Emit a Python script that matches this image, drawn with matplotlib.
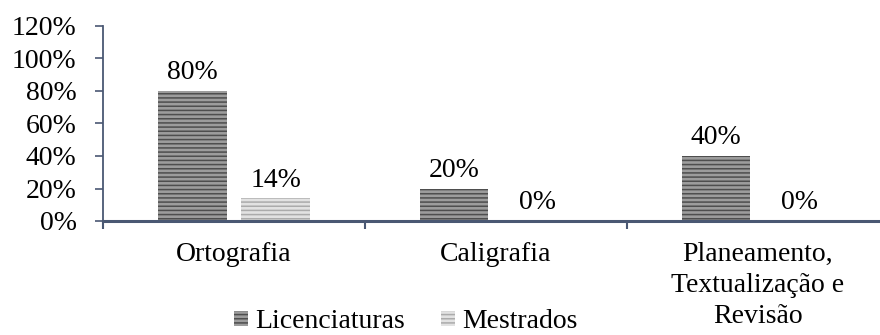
import numpy as np
import matplotlib
matplotlib.use("Agg")
import matplotlib.pyplot as plt
from matplotlib.patches import Patch

# values
categorias = ["Ortografia", "Caligrafia", "Planeamento,\nTextualização e\nRevisão"]
licenciaturas = [0.80, 0.20, 0.40]
mestrados = [0.14, 0.0, 0.0]
series_names = ["Licenciaturas", "Mestrados"]
yticks = [0, 0.2, 0.4, 0.6, 0.8, 1.0, 1.2]

plt.rcParams['font.family'] = ['Liberation Serif', 'DejaVu Serif']
plt.rcParams['hatch.linewidth'] = 1.1

axis_col = "#4a5873"
fs = 20

fig = plt.figure(figsize=(8.8, 3.35), dpi=100)
ax = fig.add_axes([103 / 880, 114 / 335, 777 / 880, 195 / 335])

x = np.arange(len(categorias))
w = 0.263
off = 0.16

b1 = ax.bar(x - off, licenciaturas, w, color="#9c9c9c", edgecolor="#4e4e4e",
            hatch="----", linewidth=0)
b2 = ax.bar(x + off, mestrados, w, color="#e2e2e2", edgecolor="#ababab",
            hatch="----", linewidth=0)

for bars, vals in [(b1, licenciaturas), (b2, mestrados)]:
    for rect, v in zip(bars, vals):
        ax.annotate(f"{v * 100:.0f}%", (rect.get_x() + rect.get_width() / 2, v),
                    xytext=(0, 4), textcoords="offset points",
                    ha="center", va="bottom", fontsize=fs)

ax.set_ylim(0, 1.2)
ax.set_xlim(-0.5, 2.466)
ax.set_yticks(yticks)
ax.set_yticklabels([f"{t * 100:.0f}%" for t in yticks], fontsize=fs)

# category labels without marks, boundary ticks as minor ticks
ax.set_xticks(x)
ax.set_xticklabels(categorias, fontsize=fs, linespacing=1.32, va="top")
ax.tick_params(axis="x", which="major", length=0, pad=15)
ax.set_xticks([-0.5, 0.5, 1.5], minor=True)
ax.tick_params(axis="x", which="minor", length=6, width=1.5, color=axis_col, direction="out")
ax.tick_params(axis="y", length=6, width=1.2, color=axis_col, pad=13)

for s in ["top", "right"]:
    ax.spines[s].set_visible(False)
ax.spines["left"].set_color(axis_col)
ax.spines["left"].set_linewidth(1.3)
ax.spines["bottom"].set_color(axis_col)
ax.spines["bottom"].set_linewidth(2.2)

handles = [Patch(facecolor="#9c9c9c", edgecolor="#4e4e4e", hatch="----", linewidth=0),
           Patch(facecolor="#e2e2e2", edgecolor="#ababab", hatch="----", linewidth=0)]
fig.legend(handles, series_names, loc="center", bbox_to_anchor=(0.461, 0.04),
           ncol=2, frameon=False, fontsize=fs, handlelength=0.5, handleheight=0.45,
           handletextpad=0.25, columnspacing=1.3, borderpad=0, borderaxespad=0)

fig.savefig("out.png", dpi=100)
